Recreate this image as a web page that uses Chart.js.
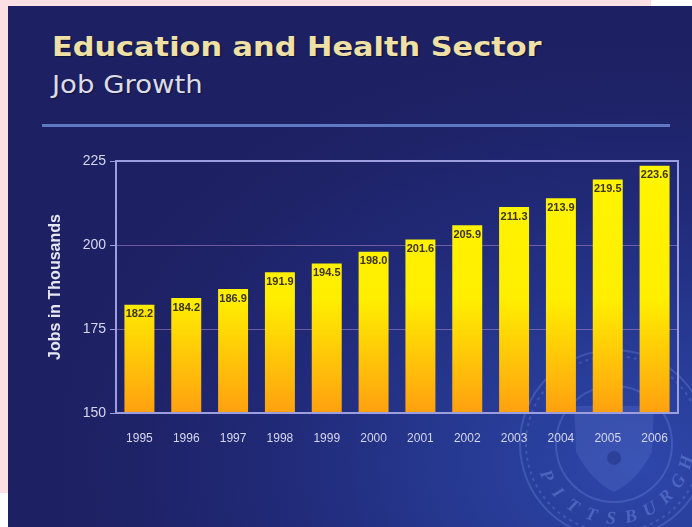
<!DOCTYPE html>
<html>
<head>
<meta charset="utf-8">
<script src="https://cdn.jsdelivr.net/npm/chart.js@4.4.1/dist/chart.umd.min.js"></script>
<style>
  body { margin: 0; width: 692px; height: 527px; background: #fff; position: relative; overflow: hidden; }
  .pink { position: absolute; background: #fde0e4; }
  #slide {
    position: absolute; left: 8px; top: 6px; width: 684px; height: 521px;
    background: radial-gradient(ellipse 95% 90% at 92% 88%, #2e47ab 0%, #273b95 25%, #212a78 55%, #1e2266 80%, #1d2062 100%);
  }
  #title {
    position: absolute; left: 52px; top: 31px; margin: 0;
    font: bold 27px "DejaVu Sans", Verdana, sans-serif; color: #efe1a6;
    text-shadow: 1px 1px 1px rgba(0,0,0,0.45); white-space: nowrap;
    transform: scaleX(1.125); transform-origin: 0 0;
  }
  #subtitle {
    position: absolute; left: 52px; top: 70px; margin: 0;
    font: normal 25px "DejaVu Sans", Verdana, sans-serif; color: #dcdce6;
    text-shadow: 1px 1px 1px rgba(0,0,0,0.4); white-space: nowrap;
    transform: scaleX(1.1); transform-origin: 0 0;
  }
  #rule { position: absolute; left: 42px; top: 124px; width: 628px; height: 3px; background: #5d79c4; }
  #chartBox { position: absolute; left: 8px; top: 130px; }
</style>
</head>
<body>
<div class="pink" style="left:0;top:0;width:651px;height:6px"></div>
<div class="pink" style="left:0;top:0;width:8px;height:493px"></div>
<div id="slide"></div>
<h1 id="title">Education and Health Sector</h1>
<h2 id="subtitle">Job Growth</h2>
<div id="rule"></div>
<div id="chartBox"><canvas id="jobsChart" width="684" height="397"></canvas></div>
<script>
const years = ['1995', '1996', '1997', '1998', '1999', '2000', '2001', '2002', '2003', '2004', '2005', '2006'];
const jobs = [182.2, 184.2, 186.9, 191.9, 194.5, 198.0, 201.6, 205.9, 211.3, 213.9, 219.5, 223.6];
const yTicks = [150, 175, 200, 225];

const sans = "'Liberation Sans', Arial, sans-serif";

// faint university seal behind the plot
const sealPlugin = {
  id: 'seal',
  beforeDraw(chart) {
    const ctx = chart.ctx;
    const cx = 606, cy = 314;
    ctx.save();
    ctx.strokeStyle = 'rgba(120,150,235,0.28)';
    ctx.lineWidth = 2;
    ctx.beginPath(); ctx.arc(cx, cy, 94, 0, Math.PI * 2); ctx.stroke();
    ctx.beginPath(); ctx.arc(cx, cy, 58, 0, Math.PI * 2); ctx.stroke();
    ctx.setLineDash([3, 4]);
    ctx.beginPath(); ctx.arc(cx, cy, 88, 0, Math.PI * 2); ctx.stroke();
    ctx.setLineDash([]);
    // shield
    ctx.fillStyle = 'rgba(120,150,235,0.18)';
    ctx.beginPath();
    ctx.moveTo(cx - 40, cy - 38);
    ctx.lineTo(cx + 40, cy - 38);
    ctx.lineTo(cx + 38, cy + 8);
    ctx.quadraticCurveTo(cx + 22, cy + 38, cx, cy + 48);
    ctx.quadraticCurveTo(cx - 22, cy + 38, cx - 38, cy + 8);
    ctx.closePath();
    ctx.fill();
    ctx.fillStyle = 'rgba(30,45,120,0.45)';
    ctx.beginPath(); ctx.arc(cx, cy + 14, 7, 0, Math.PI * 2); ctx.fill();
    // lettering on the bottom arc
    const word = 'PITTSBURGH';
    ctx.font = "italic bold 18px 'Liberation Serif', serif";
    ctx.fillStyle = 'rgba(125,155,235,0.40)';
    ctx.textAlign = 'center';
    ctx.textBaseline = 'middle';
    const start = Math.PI * 0.86, span = Math.PI * 0.78;
    for (let i = 0; i < word.length; i++) {
      const a = start - span * i / (word.length - 1);
      ctx.save();
      ctx.translate(cx + Math.cos(a) * 75, cy + Math.sin(a) * 75);
      ctx.rotate(a - Math.PI / 2);
      ctx.fillText(word[i], 0, 0);
      ctx.restore();
    }
    ctx.restore();
  }
};

// lavender frame around the plot area
const framePlugin = {
  id: 'frame',
  afterDatasetsDraw(chart) {
    const { ctx, chartArea: a } = chart;
    ctx.save();
    ctx.strokeStyle = '#9d9ee0';
    ctx.lineWidth = 2;
    ctx.strokeRect(a.left, a.top, a.right - a.left, a.bottom - a.top);
    ctx.restore();
  }
};

// value printed inside the top of each bar
const valuePlugin = {
  id: 'values',
  afterDatasetsDraw(chart) {
    const ctx = chart.ctx;
    const meta = chart.getDatasetMeta(0);
    ctx.save();
    ctx.font = 'bold 11px ' + sans;
    ctx.fillStyle = '#3b3524';
    ctx.textAlign = 'center';
    ctx.textBaseline = 'top';
    meta.data.forEach((bar, i) => {
      ctx.fillText(jobs[i].toFixed(1), bar.x, bar.y + 4);
    });
    ctx.restore();
  }
};

const ctx = document.getElementById('jobsChart').getContext('2d');

function barFill(context) {
  const area = context.chart.chartArea;
  if (!area) return '#ffd000';
  const g = context.chart.ctx.createLinearGradient(0, area.top, 0, area.bottom);
  g.addColorStop(0, '#fff500');
  g.addColorStop(0.55, '#ffee00');
  g.addColorStop(1, '#ffa010');
  return g;
}

new Chart(ctx, {
  type: 'bar',
  data: {
    labels: years,
    datasets: [{
      label: 'Jobs in Thousands',
      data: jobs,
      backgroundColor: barFill,
      borderWidth: 0,
      barPercentage: 0.64,
      categoryPercentage: 1.0
    }]
  },
  options: {
    responsive: false,
    animation: false,
    devicePixelRatio: 1,
    layout: { padding: { left: 38, right: 14, top: 31, bottom: 74 } },
    plugins: { legend: { display: false }, tooltip: { enabled: false } },
    scales: {
      x: {
        grid: { display: false },
        border: { display: false },
        ticks: { color: '#d6d6ee', font: { size: 12, family: sans }, padding: 10, maxRotation: 0 },
        afterFit(s) { s.height = 40; }
      },
      y: {
        min: 150,
        max: 225,
        afterBuildTicks(s) { s.ticks = yTicks.map(v => ({ value: v })); },
        afterFit(s) { s.width = 70; },
        grid: {
          color: c => (c.tick && (c.tick.value === 150 || c.tick.value === 225)) ? 'rgba(0,0,0,0)' : 'rgba(175,135,200,0.55)',
          tickColor: '#9d9ee0',
          tickLength: 6,
          lineWidth: 1
        },
        border: { display: false },
        ticks: { color: '#d6d6ee', font: { size: 14, family: sans }, padding: 4 },
        title: {
          display: true,
          text: 'Jobs in Thousands',
          color: '#e6e6f2',
          font: { size: 16, weight: 'bold', family: sans },
          padding: { top: 0, bottom: 0 }
        }
      }
    }
  },
  plugins: [sealPlugin, framePlugin, valuePlugin]
});
</script>
</body>
</html>
